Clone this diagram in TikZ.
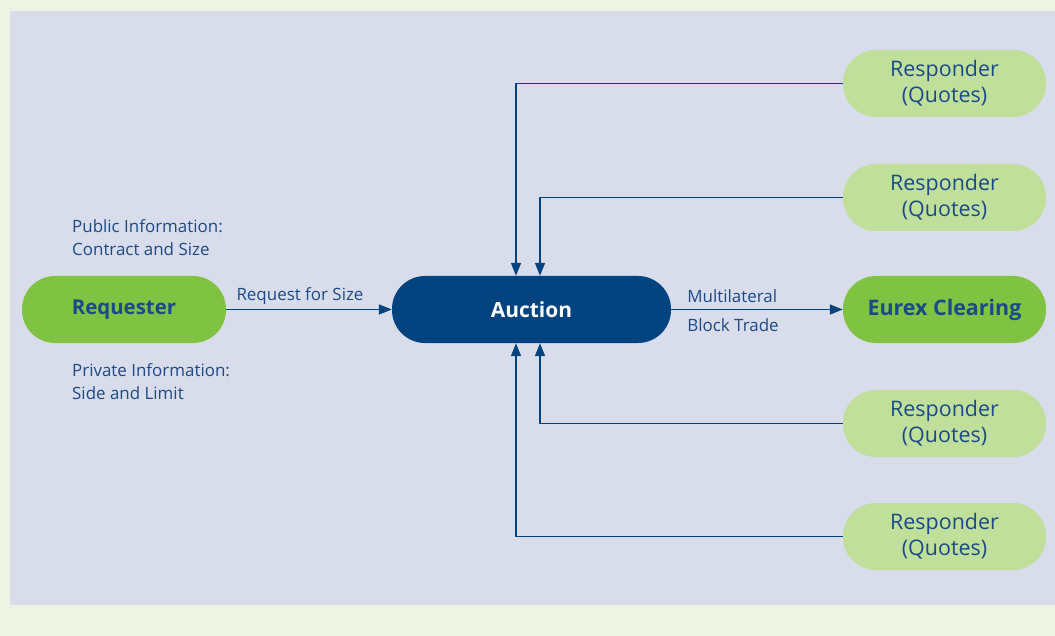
\documentclass[tikz,border=0pt]{standalone}
\usepackage{fontspec}
\setmainfont{Open Sans}
\usetikzlibrary{arrows.meta}
\definecolor{outerbg}{HTML}{EEF4E4}
\definecolor{panel}{HTML}{D9DCEA}
\definecolor{dkgreen}{HTML}{80C242}
\definecolor{ltgreen}{HTML}{C0DF9A}
\definecolor{navy}{HTML}{00437F}
\definecolor{txtblue}{HTML}{1A4A8A}
\tikzset{
  pill/.style={rounded corners=33bp, minimum height=67bp, inner sep=0pt, draw=none},
  reqbox/.style={pill, fill=dkgreen, minimum width=204bp, text=txtblue, font=\fontsize{20.5}{22}\selectfont\bfseries},
  aucbox/.style={pill, fill=navy, minimum width=279bp, text=white, font=\fontsize{21}{22}\selectfont\bfseries},
  respbox/.style={pill, fill=ltgreen, minimum width=203bp, text=txtblue, align=center, font=\fontsize{21.5}{26}\selectfont},
  lbl/.style={text=txtblue, font=\fontsize{17}{23.5}\selectfont, inner sep=0pt},
  arr/.style={draw=navy, line width=1.7bp, -{Triangle[length=13bp,width=10bp]}},
}
\begin{document}
\begin{tikzpicture}[x=1bp,y=-1bp]
\fill[outerbg] (0,0) rectangle (1055,636);
\fill[panel] (10,11) rectangle (1055,605);
\useasboundingbox (0,0) rectangle (1055,636);

\node[reqbox] (req) at (124,309.5) {Requester};
\node[aucbox] (auc) at (531.5,309.5) {Auction};
\node[reqbox, minimum width=203bp, font=\fontsize{21.5}{22}\selectfont\bfseries] (eurex) at (944.5,309.5) {Eurex Clearing};
\node[respbox] (r1) at (944.5,83.5) {Responder\\(Quotes)};
\node[respbox] (r2) at (944.5,197.5) {Responder\\(Quotes)};
\node[respbox] (r3) at (944.5,423.5) {Responder\\(Quotes)};
\node[respbox] (r4) at (944.5,536.5) {Responder\\(Quotes)};

\node[lbl, anchor=west, align=left] (pub) at (72,237.5) {Public Information:\\Contract and Size};
\node[lbl, anchor=west, align=left] (priv) at (72,381.5) {Private Information:\\Side and Limit};

\draw[arr] (req.east) -- node[lbl, above=4bp, xshift=-9bp] (rfs) {Request for Size} (auc.west);
\draw[arr] (auc.east) -- coordinate[pos=0] (aucE) (eurex.west);
\node[lbl, anchor=south west] (ml) at ([xshift=16bp,yshift=7bp]aucE) {Multilateral};
\node[lbl, anchor=north west] (bt) at ([xshift=16bp,yshift=-9bp]aucE) {Block Trade};

\draw[arr] (r1.west) -| ([xshift=-15.5bp]auc.north);
\draw[arr] (r2.west) -| ([xshift=8.5bp]auc.north);
\draw[arr] (r3.west) -| ([xshift=8.5bp]auc.south);
\draw[arr] (r4.west) -| ([xshift=-15.5bp]auc.south);
\end{tikzpicture}
\end{document}
